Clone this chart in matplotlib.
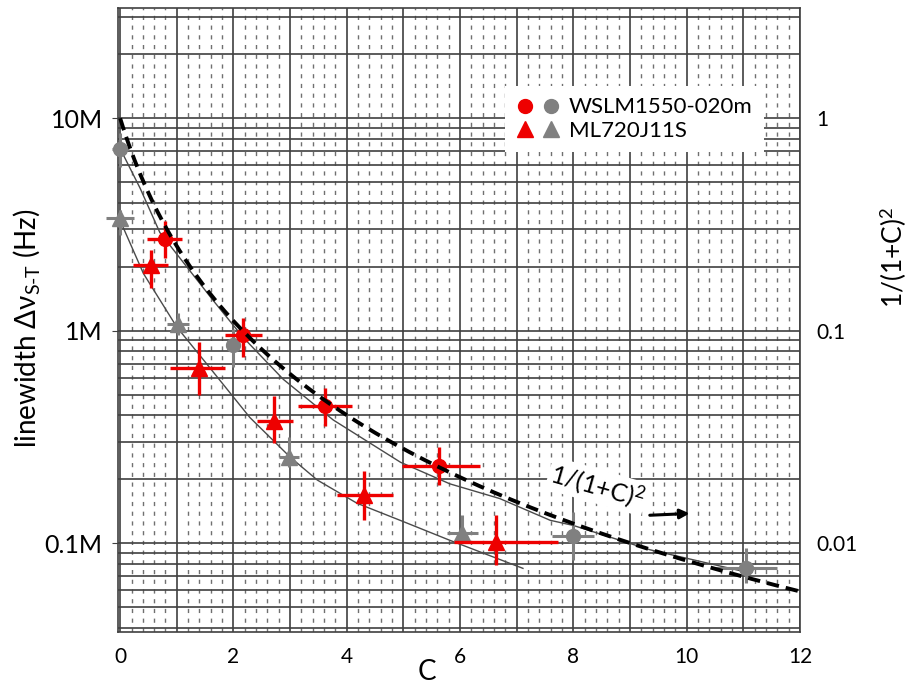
import matplotlib
matplotlib.use('Agg')
import matplotlib.pyplot as plt
from matplotlib.lines import Line2D
from matplotlib.legend_handler import HandlerTuple
from matplotlib.ticker import MultipleLocator, FuncFormatter, FixedLocator, NullFormatter
import numpy as np

plt.rcParams['font.family'] = ['Lato', 'DejaVu Sans']
plt.rcParams['mathtext.fontset'] = 'custom'
plt.rcParams['mathtext.rm'] = 'Lato'
plt.rcParams['mathtext.it'] = 'Lato:italic'

# ---- data (linewidth in Hz) ----
red_circ_c = [0.79, 2.17, 3.62, 5.63]
red_circ_v = [2.7e6, 0.95e6, 0.44e6, 0.23e6]
red_circ_cerr = [[0.31, 0.32, 0.48, 0.65], [0.31, 0.33, 0.48, 0.72]]
red_circ_verr = [[0.5e6, 0.2e6, 0.084e6, 0.043e6], [0.6e6, 0.2e6, 0.10e6, 0.053e6]]

red_tri_c = [0.55, 1.39, 2.72, 4.31, 6.63]
red_tri_v = [2.03e6, 0.67e6, 0.375e6, 0.168e6, 0.101e6]
red_tri_cerr = [[0.32, 0.51, 0.30, 0.48, 0.73], [0.30, 0.46, 0.33, 0.51, 1.10]]
red_tri_verr = [[0.44e6, 0.17e6, 0.079e6, 0.040e6, 0.022e6],
                [0.36e6, 0.21e6, 0.12e6, 0.050e6, 0.035e6]]

gray_circ_c = [0.0, 1.99, 8.0, 11.05]
gray_circ_v = [7.2e6, 0.855e6, 0.108e6, 0.076e6]
gray_circ_cerr = [[0.15, 0.1, 0.37, 0.59], [0.15, 0.1, 0.37, 0.55]]
gray_circ_verr = [[1.3e6, 0.18e6, 0.025e6, 0.011e6], [1.3e6, 0.16e6, 0.032e6, 0.019e6]]

gray_tri_c = [0.0, 1.02, 2.98, 6.03]
gray_tri_v = [3.38e6, 1.08e6, 0.254e6, 0.111e6]
gray_tri_cerr = [[0.25, 0.19, 0.18, 0.26], [0.25, 0.19, 0.18, 0.29]]
gray_tri_verr = [[0.57e6, 0.13e6, 0.026e6, 0.011e6], [0.31e6, 0.13e6, 0.062e6, 0.025e6]]

# model curves drawn through the measured points
upper_c = [0, 0.35, 0.7, 1.64, 2.17, 2.88, 3.76, 4.95, 5.82, 6.7, 7.59, 8.0, 9.35, 11.05]
upper_v = [7.2e6, 4.7e6, 2.9e6, 1.39e6, 0.93e6, 0.59e6, 0.38e6, 0.24e6, 0.19e6,
           0.162e6, 0.128e6, 0.121e6, 0.093e6, 0.073e6]
lower_c = [0, 0.41, 1.0, 1.45, 2.29, 3.0, 3.48, 4.18, 4.94, 5.82, 7.11]
lower_v = [3.3e6, 1.86e6, 1.04e6, 0.74e6, 0.39e6, 0.254e6, 0.198e6, 0.154e6,
           0.128e6, 0.103e6, 0.076e6]

# theory 1/(1+C)^2 (right axis)
theory_c = np.linspace(0, 12, 241)
theory = 1.0 / (1.0 + theory_c) ** 2

left_ticks = [1e5, 1e6, 1e7]
left_labels = ['0.1M', '1M', '10M']
right_ticks = [0.01, 0.1, 1]
right_labels = ['0.01', '0.1', '1']

RED = '#ee0000'
GRAY = '#808080'

fig = plt.figure(figsize=(9.07, 6.87), dpi=100)
ax = fig.add_axes([0.130, 0.080, 0.752, 0.908])
ax.set_yscale('log')
ylo, yhi = 3.81e4, 3.3e7
ax.set_ylim(ylo, yhi)
ax.set_xlim(-0.04, 12)

# graph-paper grid
ax.xaxis.set_major_locator(MultipleLocator(1))
ax.xaxis.set_minor_locator(MultipleLocator(0.2))
ax.xaxis.set_major_formatter(FuncFormatter(lambda v, p: f"{v:g}" if round(v) % 2 == 0 else ""))
ax.grid(True, which='major', axis='x', color='#404040', lw=1.2, zorder=0)
ax.grid(True, which='minor', axis='x', color='#707070', lw=1.0, linestyle=(0, (3, 4)), zorder=0)
ax.grid(True, which='both', axis='y', color='#404040', lw=1.2, zorder=0)
ax.set_axisbelow(True)
ax.yaxis.set_major_locator(FixedLocator(left_ticks))
ax.set_yticklabels(left_labels)
ax.yaxis.set_minor_formatter(NullFormatter())
ax.tick_params(axis='x', which='both', length=0, labelsize=15, pad=11)
ax.tick_params(axis='y', which='major', length=4, labelsize=18, pad=7, color='#404040')
ax.tick_params(axis='y', which='minor', length=0)
for s in ax.spines.values():
    s.set_color('#404040')
    s.set_linewidth(1.2)

# curves
ax.plot(upper_c, upper_v, color='#4a4a4a', lw=1.0, zorder=2)
ax.plot(lower_c, lower_v, color='#4a4a4a', lw=1.0, zorder=2)

# data with error bars
ax.errorbar(gray_circ_c, gray_circ_v, xerr=gray_circ_cerr, yerr=gray_circ_verr,
            fmt='o', color=GRAY, ms=10, elinewidth=2.2, capsize=0, zorder=3, clip_on=False)
ax.errorbar(gray_tri_c, gray_tri_v, xerr=gray_tri_cerr, yerr=gray_tri_verr,
            fmt='^', color=GRAY, ms=11, elinewidth=2.2, capsize=0, zorder=3, clip_on=False)
ax.errorbar(red_circ_c, red_circ_v, xerr=red_circ_cerr, yerr=red_circ_verr,
            fmt='o', color=RED, ms=10, elinewidth=2.4, capsize=0, zorder=4)
ax.errorbar(red_tri_c, red_tri_v, xerr=red_tri_cerr, yerr=red_tri_verr,
            fmt='^', color=RED, ms=11, elinewidth=2.4, capsize=0, zorder=4)

# right axis: 1/(1+C)^2
ax2 = ax.twinx()
ax2.set_yscale('log')
ax2.set_ylim(ylo / 1e7, yhi / 1e7)
ax2.plot(theory_c, theory, color='black', lw=2.8, linestyle=(0, (3.2, 1.8)), zorder=5)
ax2.yaxis.set_major_locator(FixedLocator(right_ticks))
ax2.set_yticklabels(right_labels)
ax2.yaxis.set_minor_formatter(NullFormatter())
ax2.tick_params(axis='y', which='both', length=0, labelsize=15, pad=12)
for s in ax2.spines.values():
    s.set_visible(False)

ax2.text(8.42, 0.0185, '1/(1+C)$^2$', rotation=-16, ha='center', va='center', fontsize=18,
         bbox=dict(facecolor='white', edgecolor='none', pad=1.5), zorder=6)
ax2.annotate('', xy=(10.1, 0.0138), xytext=(9.3, 0.0135),
             arrowprops=dict(arrowstyle='-|>', lw=2.2, color='black', mutation_scale=14), zorder=6)

# legend
h_rc = Line2D([], [], marker='o', ls='none', color=RED, ms=10)
h_gc = Line2D([], [], marker='o', ls='none', color=GRAY, ms=10)
h_rt = Line2D([], [], marker='^', ls='none', color=RED, ms=11)
h_gt = Line2D([], [], marker='^', ls='none', color=GRAY, ms=11)
leg = ax2.legend([(h_rc, h_gc), (h_rt, h_gt)], ['WSLM1550-020m', 'ML720J11S'],
                 handler_map={tuple: HandlerTuple(ndivide=None, pad=0.4)},
                 loc='upper left', bbox_to_anchor=(0.567, 0.875), borderaxespad=0,
                 fontsize=16, frameon=True, fancybox=False, framealpha=1,
                 handlelength=2.0, handletextpad=0.4, labelspacing=0.15, borderpad=0.5)
leg.get_frame().set_edgecolor('none')
leg.set_zorder(10)

# axis titles
fig.text(27 / 907, 1 - 328 / 687, 'linewidth \u0394\u03bd$_{\\mathrm{S\\text{-}T}}$ (Hz)',
         rotation=90, ha='center', va='center', fontsize=20)
fig.text(893 / 907, 1 - 257 / 687, '1/(1+C)$^2$', rotation=90, ha='center', va='center', fontsize=19)
fig.text(427 / 907, 1 - 672 / 687, 'C', ha='center', va='center', fontsize=20)

fig.savefig('out.png', dpi=100)
